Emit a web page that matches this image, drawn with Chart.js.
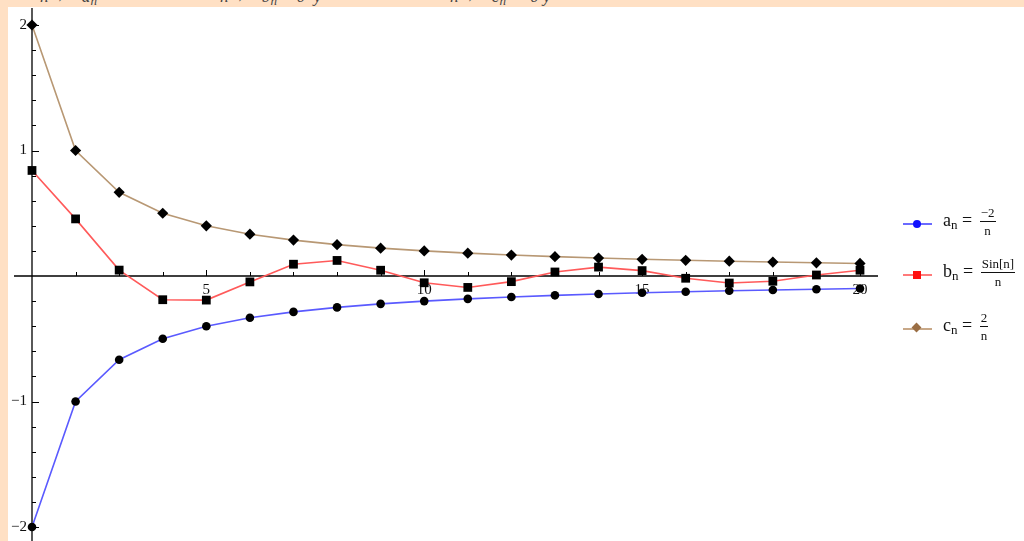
<!DOCTYPE html>
<html>
<head>
<meta charset="utf-8">
<script src="https://cdn.jsdelivr.net/npm/chart.js@4"></script>
<style>
  html, body { margin: 0; padding: 0; }
  body { width: 1024px; height: 541px; background: #ffe0c4; position: relative; overflow: hidden; font-family: "Liberation Serif", serif; }
  #paper { position: absolute; left: 8px; top: 7px; width: 1016px; height: 534px; background: #fff; }
  #wrap { position: absolute; left: 0; top: 0; width: 1024px; height: 541px; }
  #topline { position: absolute; left: 0; top: -13px; width: 1024px; font-style: italic; font-size: 17px; color: #444; white-space: pre; }
  .leg { position: absolute; left: 903px; height: 30px; color: #111; }
  .leg .ln { position: absolute; left: 0; top: 14px; width: 29px; height: 2px; }
  .leg .mk { position: absolute; }
  .leg .txt { position: absolute; left: 40px; top: -3px; white-space: nowrap; font-size: 18px; }
  .frac { display: inline-block; vertical-align: middle; text-align: center; font-size: 13px; line-height: 14px; margin-left: 3px; }
  .frac .num { display: block; border-bottom: 1px solid #111; padding: 0 1px 1px; }
  .frac .den { display: block; padding-top: 2px; }
  sub { font-size: 13px; vertical-align: -3px; }
</style>
</head>
<body>
<div id="topline"><span style="position:absolute;left:40px">n→∞ a<sub>n</sub></span><span style="position:absolute;left:220px">n→∞ b<sub>n</sub> = 0  y</span><span style="position:absolute;left:450px">n→∞ c<sub>n</sub>  = 0 y</span></div>
<div id="paper"></div>
<div id="wrap"><canvas id="chart" width="1024" height="541"></canvas></div>

<div class="leg" style="top:209px">
  <div class="ln" style="background:#6a6aff"></div>
  <div class="mk" style="left:10px;top:11px;width:8px;height:8px;border-radius:50%;background:#1010ff"></div>
  <div class="txt">a<sub>n</sub> = <span class="frac"><span class="num">−2</span><span class="den">n</span></span></div>
</div>
<div class="leg" style="top:260px">
  <div class="ln" style="background:#ff7a7a"></div>
  <div class="mk" style="left:10px;top:11px;width:8px;height:8px;background:#ff1010"></div>
  <div class="txt">b<sub>n</sub> = <span class="frac"><span class="num">Sin[n]</span><span class="den">n</span></span></div>
</div>
<div class="leg" style="top:314px">
  <div class="ln" style="background:#c8a888"></div>
  <div class="mk" style="left:10px;top:10px;width:7px;height:7px;background:#9a6e44;transform:rotate(45deg)"></div>
  <div class="txt">c<sub>n</sub> = <span class="frac"><span class="num">2</span><span class="den">n</span></span></div>
</div>

<script>
  // values
  const nValues = [1, 2, 3, 4, 5, 6, 7, 8, 9, 10, 11, 12, 13, 14, 15, 16, 17, 18, 19, 20];
  const aValues = [-2, -1, -0.667, -0.5, -0.4, -0.333, -0.286, -0.25, -0.222, -0.2,
    -0.182, -0.167, -0.154, -0.143, -0.133, -0.125, -0.118, -0.111, -0.105, -0.1];
  const bValues = [0.841, 0.455, 0.047, -0.189, -0.192, -0.047, 0.094, 0.124, 0.046, -0.054,
    -0.091, -0.045, 0.032, 0.071, 0.043, -0.018, -0.056, -0.042, 0.008, 0.046];
  const cValues = [2, 1, 0.667, 0.5, 0.4, 0.333, 0.286, 0.25, 0.222, 0.2,
    0.182, 0.167, 0.154, 0.143, 0.133, 0.125, 0.118, 0.111, 0.105, 0.1];
  const xTickLabels = [5, 10, 15, 20];
  const yTickLabels = [-2, -1, 1, 2];

  const pts = ys => nValues.map((n, i) => ({ x: n, y: ys[i] }));

  // axes through the origin, Mathematica style
  const axesPlugin = {
    id: 'axes',
    beforeDatasetsDraw(chart) {
      const { ctx, scales: { x, y } } = chart;
      const x0 = x.getPixelForValue(1);
      const y0 = y.getPixelForValue(0);
      ctx.save();
      ctx.strokeStyle = '#000';
      ctx.lineWidth = 1.3;
      ctx.beginPath();
      ctx.moveTo(14, y0); ctx.lineTo(878, y0);
      ctx.moveTo(x0, 8); ctx.lineTo(x0, 541);
      ctx.stroke();

      ctx.lineWidth = 1;
      ctx.beginPath();
      for (let n = 2; n <= 20; n++) {
        const px = Math.round(x.getPixelForValue(n)) + 0.5;
        const len = n % 5 === 0 ? 6 : 4;
        ctx.moveTo(px, y0); ctx.lineTo(px, y0 - len);
      }
      for (let k = -10; k <= 10; k++) {
        if (k === 0) continue;
        const py = Math.round(y.getPixelForValue(k / 5)) + 0.5;
        const len = k % 5 === 0 ? 7 : 4;
        ctx.moveTo(x0, py); ctx.lineTo(x0 + len, py);
      }
      ctx.stroke();

      ctx.fillStyle = '#111';
      ctx.font = '15px "Liberation Serif", serif';
      ctx.textAlign = 'center';
      ctx.textBaseline = 'top';
      xTickLabels.forEach(v => ctx.fillText(String(v), x.getPixelForValue(v), y0 + 7));
      ctx.textAlign = 'right';
      ctx.textBaseline = 'middle';
      yTickLabels.forEach(v => ctx.fillText(v < 0 ? '\u2212' + (-v) : String(v), x0 - 5, y.getPixelForValue(v)));
      ctx.restore();
    }
  };

  new Chart(document.getElementById('chart'), {
    type: 'scatter',
    data: {
      datasets: [
        {
          label: 'a', data: pts(aValues), showLine: true,
          borderColor: '#5a5aff', borderWidth: 1.6,
          pointStyle: 'circle', pointRadius: 4.3,
          pointBackgroundColor: '#000', pointBorderColor: '#000', pointBorderWidth: 0
        },
        {
          label: 'b', data: pts(bValues), showLine: true,
          borderColor: '#ff5a5a', borderWidth: 1.6,
          pointStyle: 'rect', pointRadius: 6.2,
          pointBackgroundColor: '#000', pointBorderColor: '#000', pointBorderWidth: 0
        },
        {
          label: 'c', data: pts(cValues), showLine: true,
          borderColor: '#b89874', borderWidth: 1.6,
          pointStyle: 'rectRot', pointRadius: 5.6,
          pointBackgroundColor: '#000', pointBorderColor: '#000', pointBorderWidth: 0
        }
      ]
    },
    options: {
      responsive: false,
      animation: false,
      clip: false,
      layout: { padding: { left: 32, right: 164, top: 25, bottom: 14 } },
      plugins: { legend: { display: false }, tooltip: { enabled: false } },
      scales: {
        x: { type: 'linear', min: 1, max: 20, display: false },
        y: { type: 'linear', min: -2, max: 2, display: false }
      }
    },
    plugins: [axesPlugin]
  });
</script>
</body>
</html>
